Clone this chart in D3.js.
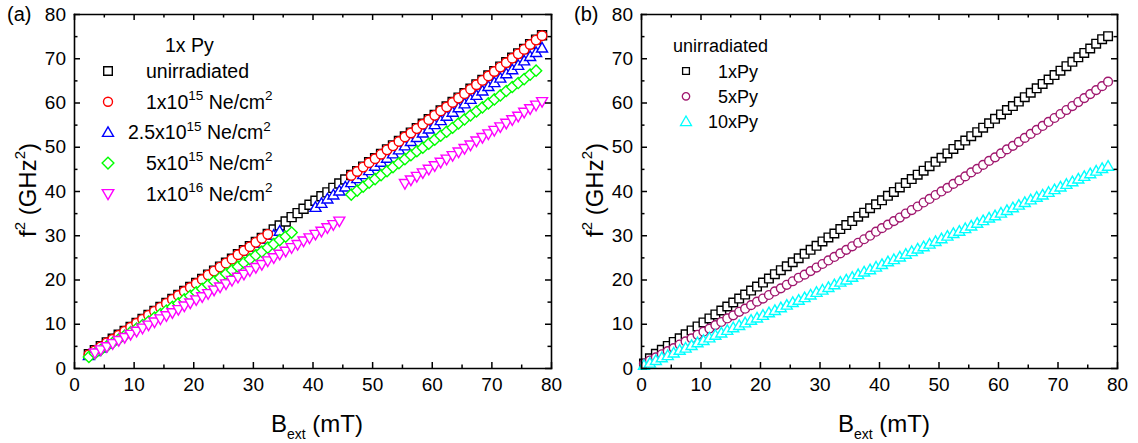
<!DOCTYPE html>
<html>
<head>
<meta charset="utf-8">
<script src="https://cdn.jsdelivr.net/npm/d3@7"></script>
<style>
  body { margin: 0; background: #fff; }
  svg { display: block; }
  text { font-family: "Liberation Sans", Arial, Helvetica, sans-serif; fill: #000; }
</style>
</head>
<body>
<svg id="fig" width="1138" height="443"></svg>
<script>
// ---------- data ----------
// Axis ticks (both panels share the same 0–80 ranges)
const majorTicks = [0, 10, 20, 30, 40, 50, 60, 70, 80];
const minorTicks = [5, 15, 25, 35, 45, 55, 65, 75];

// Panel (a): 1x Py, external field B_ext (mT)
const fieldA = [2.5,3.5,4.5,5.5,6.5,7.5,8.5,9.5,10.5,11.5,12.5,13.5,14.5,15.5,16.5,17.5,18.5,19.5,20.5,21.5,
  22.5,23.5,24.5,25.5,26.5,27.5,28.5,29.5,30.5,31.5,32.5,33.5,34.5,35.5,36.5,37.5,38.5,39.5,40.5,41.5,
  42.5,43.5,44.5,45.5,46.5,47.5,48.5,49.5,50.5,51.5,52.5,53.5,54.5,55.5,56.5,57.5,58.5,59.5,60.5,61.5,
  62.5,63.5,64.5,65.5,66.5,67.5,68.5,69.5,70.5,71.5,72.5,73.5,74.5,75.5,76.5,77.5,78.5];

// f^2 (GHz^2); null where no resonance was recorded
const unirradiatedA = [3.1,4.0,4.9,5.8,6.6,7.5,8.4,9.3,10.2,11.1,
  12.0,12.9,13.8,14.7,15.6,16.5,17.4,18.3,19.2,20.1,
  21.1,22.0,22.9,23.8,24.7,25.7,26.6,27.5,28.5,29.4,
  30.3,31.3,32.2,33.1,34.1,35.0,36.0,36.9,37.8,38.8,
  39.7,40.7,41.7,42.6,43.6,44.5,45.5,46.5,47.4,48.4,
  49.4,50.3,51.3,52.3,53.2,54.2,55.2,56.2,57.2,58.2,
  59.1,60.1,61.1,62.1,63.1,64.1,65.1,66.1,67.1,68.1,
  69.1,70.1,71.1,72.1,73.2,74.2,75.2];
const dose1e15 = [3.0,3.9,4.8,5.7,6.5,7.4,8.3,9.2,10.1,11.0,
  11.9,12.8,13.7,14.6,15.5,16.4,17.3,18.2,19.1,20.0,
  21.0,21.9,22.8,23.7,24.6,25.6,26.5,27.4,28.4,29.3,
  30.2,null,null,null,null,null,null,null,null,null,
  null,null,null,null,43.5,44.4,45.4,46.4,47.3,48.3,
  49.3,50.2,51.2,52.2,53.1,54.1,55.1,56.1,57.1,58.1,
  59.0,60.0,61.0,62.0,63.0,64.0,65.0,66.0,67.0,68.0,
  69.0,70.0,71.0,72.0,73.1,74.1,75.1];
const dose2p5e15 = [2.8,3.7,4.5,5.4,6.2,7.1,7.9,8.8,9.7,10.5,
  11.4,12.3,13.1,14.0,14.9,15.7,16.6,17.5,18.4,19.3,
  20.1,21.0,21.9,22.8,23.7,24.6,25.5,26.4,27.3,28.2,
  29.1,30.0,30.9,null,null,null,null,null,36.3,37.2,
  38.2,39.1,40.0,40.9,41.9,42.8,43.7,44.6,45.6,46.5,
  47.4,48.4,49.3,50.2,51.2,52.1,53.1,54.0,55.0,55.9,
  56.9,57.8,58.8,59.7,60.7,61.6,62.6,63.6,64.5,65.5,
  66.5,67.4,68.4,69.4,70.4,71.3,72.3];
const dose5e15 = [2.5,3.3,4.1,4.9,5.7,6.5,7.3,8.1,8.9,9.7,
  10.5,11.4,12.2,13.0,13.8,14.6,15.5,16.3,17.1,17.9,
  18.8,19.6,20.4,21.3,22.1,22.9,23.8,24.6,25.5,26.3,
  27.2,28.0,28.9,29.7,30.6,null,null,null,null,null,
  null,null,null,null,39.2,40.1,41.0,41.9,42.7,43.6,
  44.5,45.4,46.3,47.2,48.1,49.0,49.8,50.7,51.6,52.5,
  53.4,54.3,55.3,56.2,57.1,58.0,58.9,59.8,60.7,61.6,
  62.6,63.5,64.4,65.3,66.3,67.2,null];
const dose1e16 = [null,3.4,4.1,4.8,5.5,6.2,6.9,7.6,8.3,9.0,
  9.7,10.4,11.1,11.8,12.5,13.2,14.0,14.7,15.4,16.1,
  16.8,17.6,18.3,19.0,19.8,20.5,21.2,22.0,22.7,23.4,
  24.2,24.9,25.7,26.4,27.2,27.9,28.7,29.4,30.2,30.9,
  31.7,32.4,33.2,null,null,null,null,null,null,null,
  null,null,null,41.7,42.5,43.3,44.1,44.9,45.7,46.5,
  47.2,48.0,48.8,49.6,50.4,51.3,52.1,52.9,53.7,54.5,
  55.3,56.1,56.9,57.8,58.6,59.4,60.2];

const legendTitleA = "1x Py";
const legendLabelsA = ["unirradiated", "1x10^15 Ne/cm^2", "2.5x10^15 Ne/cm^2", "5x10^15 Ne/cm^2", "1x10^16 Ne/cm^2"];

// Panel (b): unirradiated films of different thickness
const fieldB = [0.5,1.5,2.5,3.5,4.5,5.5,6.5,7.5,8.5,9.5,10.5,11.5,12.5,13.5,14.5,15.5,16.5,17.5,18.5,19.5,
  20.5,21.5,22.5,23.5,24.5,25.5,26.5,27.5,28.5,29.5,30.5,31.5,32.5,33.5,34.5,35.5,36.5,37.5,38.5,39.5,
  40.5,41.5,42.5,43.5,44.5,45.5,46.5,47.5,48.5,49.5,50.5,51.5,52.5,53.5,54.5,55.5,56.5,57.5,58.5,59.5,
  60.5,61.5,62.5,63.5,64.5,65.5,66.5,67.5,68.5,69.5,70.5,71.5,72.5,73.5,74.5,75.5,76.5,77.5,78.5];
const py1x = [1.0,2.2,3.2,4.1,5.0,5.9,6.7,7.6,8.5,9.4,
  10.3,11.2,12.1,13.0,13.9,14.8,15.7,16.6,17.5,18.4,
  19.3,20.2,21.2,22.1,23.0,23.9,24.8,25.8,26.7,27.6,
  28.6,29.5,30.4,31.4,32.3,33.2,34.2,35.1,36.1,37.0,
  37.9,38.9,39.8,40.8,41.8,42.7,43.7,44.6,45.6,46.6,
  47.5,48.5,49.5,50.4,51.4,52.4,53.3,54.3,55.3,56.3,
  57.3,58.3,59.2,60.2,61.2,62.2,63.2,64.2,65.2,66.2,
  67.2,68.2,69.2,70.2,71.2,72.2,73.3,74.3,75.0];
const py5x = [1.0,1.7,2.4,3.1,3.8,4.5,5.3,6.0,6.7,7.5,
  8.2,8.9,9.7,10.4,11.2,11.9,12.7,13.4,14.2,15.0,
  15.7,16.5,17.3,18.0,18.8,19.6,20.4,21.1,21.9,22.7,
  23.5,24.3,25.1,25.9,26.7,27.5,28.3,29.1,29.9,30.8,
  31.6,32.4,33.2,34.0,34.9,35.7,36.5,37.4,38.2,39.1,
  39.9,40.7,41.6,42.4,43.3,44.2,45.0,45.9,46.8,47.6,
  48.5,49.4,50.2,51.1,52.0,52.9,53.8,54.7,55.6,56.5,
  57.4,58.3,59.2,60.1,61.0,61.9,62.8,63.7,64.7];
const py10x = [0.6,1.1,1.7,2.3,2.8,3.4,4.0,4.5,5.1,5.7,
  6.2,6.8,7.4,7.9,8.5,9.1,9.6,10.2,10.8,11.3,
  11.9,12.5,13.0,13.6,14.2,14.8,15.3,15.9,16.5,17.1,
  17.6,18.2,18.8,19.4,19.9,20.5,21.1,21.7,22.2,22.8,
  23.4,24.0,24.5,25.1,25.7,26.3,26.9,27.4,28.0,28.6,
  29.2,29.8,30.4,30.9,31.5,32.1,32.7,33.3,33.9,34.4,
  35.0,35.6,36.2,36.8,37.4,38.0,38.6,39.1,39.7,40.3,
  40.9,41.5,42.1,42.7,43.3,43.9,44.5,45.1,45.6];

const legendTitleB = "unirradiated";
const legendLabelsB = ["1xPy", "5xPy", "10xPy"];

// ---------- drawing ----------
const svg = d3.select("#fig");
svg.append("rect").attr("width", 1138).attr("height", 443).attr("fill", "#fff");

const boxA = { l: 74, r: 551, t: 14, b: 368 };
const boxB = { l: 641, r: 1117, t: 14, b: 368 };

function scalesFor(box) {
  return {
    x: d3.scaleLinear().domain([0, 80]).range([box.l, box.r]),
    y: d3.scaleLinear().domain([0, 80]).range([box.b, box.t])
  };
}

// Hollow marker outlines, centred on (0,0)
function shapePath(kind, s) {
  const h = s / 2;
  switch (kind) {
    case "square": return `M${-h},${-h}H${h}V${h}H${-h}Z`;
    case "circle": return `M${h},0A${h},${h} 0 1,1 ${-h},0A${h},${h} 0 1,1 ${h},0Z`;
    case "up": return `M0,${-0.56 * s}L${0.55 * s},${0.4 * s}L${-0.55 * s},${0.4 * s}Z`;
    case "down": return `M0,${0.56 * s}L${0.55 * s},${-0.4 * s}L${-0.55 * s},${-0.4 * s}Z`;
    case "diamond": { const d = s * 0.56; return `M0,${-d}L${d},0L0,${d}L${-d},0Z`; }
  }
}

function drawSeries(sc, field, values, kind, size, color) {
  const pts = field.map((b, i) => ({ b, f: values[i] })).filter(p => p.f != null);
  svg.append("g").selectAll("path").data(pts).join("path")
    .attr("d", shapePath(kind, size))
    .attr("transform", p => `translate(${sc.x(p.b)},${sc.y(p.f)})`)
    .attr("fill", "#fff")
    .attr("stroke", color)
    .attr("stroke-width", 1.4);
}

function drawAxes(box, sc) {
  const g = svg.append("g");
  const fmt = d3.format("d");
  const style = sel => {
    sel.attr("font-size", 19).attr("font-family", '"Liberation Sans", Arial, sans-serif');
    sel.selectAll("path.domain").attr("stroke", "#000").attr("stroke-width", 1.6).attr("stroke-linecap", "square");
    sel.selectAll("line").attr("stroke", "#000").attr("stroke-width", 1.5);
    sel.selectAll("text").attr("fill", "#000");
  };
  const noDomain = sel => sel.select(".domain").remove();

  // bottom
  g.append("g").attr("transform", `translate(0,${box.b})`)
    .call(d3.axisBottom(sc.x).tickValues(majorTicks).tickSizeInner(-6).tickSizeOuter(0).tickPadding(10).tickFormat(fmt)).call(style);
  g.append("g").attr("transform", `translate(0,${box.b})`)
    .call(d3.axisBottom(sc.x).tickValues(minorTicks).tickSize(-3.5).tickFormat("")).call(noDomain).call(style);
  // top
  g.append("g").attr("transform", `translate(0,${box.t})`)
    .call(d3.axisTop(sc.x).tickValues(majorTicks).tickSizeInner(-6).tickSizeOuter(0).tickFormat("")).call(style);
  g.append("g").attr("transform", `translate(0,${box.t})`)
    .call(d3.axisTop(sc.x).tickValues(minorTicks).tickSize(-3.5).tickFormat("")).call(noDomain).call(style);
  // left
  g.append("g").attr("transform", `translate(${box.l},0)`)
    .call(d3.axisLeft(sc.y).tickValues(majorTicks).tickSizeInner(-6).tickSizeOuter(0).tickPadding(8).tickFormat(fmt)).call(style);
  g.append("g").attr("transform", `translate(${box.l},0)`)
    .call(d3.axisLeft(sc.y).tickValues(minorTicks).tickSize(-3.5).tickFormat("")).call(noDomain).call(style);
  // right
  g.append("g").attr("transform", `translate(${box.r},0)`)
    .call(d3.axisRight(sc.y).tickValues(majorTicks).tickSizeInner(-6).tickSizeOuter(0).tickFormat("")).call(style);
  g.append("g").attr("transform", `translate(${box.r},0)`)
    .call(d3.axisRight(sc.y).tickValues(minorTicks).tickSize(-3.5).tickFormat("")).call(noDomain).call(style);
}

// Text with ^digits rendered as superscripts (relative shifts keep one text chunk)
function rich(parent, x, y, str, size, supSize, anchor) {
  const t = parent.append("text").attr("x", x).attr("y", y)
    .attr("font-size", size).attr("text-anchor", anchor || "start");
  const rise = size * 0.45;
  let raised = false;
  str.split(/\^(\d+)/).forEach((part, k) => {
    if (part === "") return;
    const sp = t.append("tspan").text(part);
    if (k % 2) {
      sp.attr("font-size", supSize).attr("dy", raised ? 0 : -rise);
      raised = true;
    } else {
      if (raised) sp.attr("dy", rise);
      raised = false;
    }
  });
  return t;
}

function axisTitles(box, yTitleX, panelLabel) {
  const g = svg.append("g");
  // x title: B_ext (mT)
  const xt = g.append("text").attr("x", box.l + 197).attr("y", 432).attr("font-size", 24);
  xt.append("tspan").text("B");
  xt.append("tspan").attr("dy", 7).attr("font-size", 14).text("ext");
  xt.append("tspan").attr("dy", -7).text(" (mT)");
  // y title: f^2 (GHz^2), rotated
  const cy = (box.t + box.b) / 2 - 1;
  rich(g, yTitleX, cy, "f^2 (GHz^2)", 24, 15, "middle")
    .attr("transform", `rotate(-90,${yTitleX},${cy})`);
  // panel letter
  g.append("text").attr("x", box.l - 67).attr("y", 21).attr("font-size", 20).text(panelLabel);
}

// ----- panel (a)
const scA = scalesFor(boxA);
const seriesA = [
  { v: unirradiatedA, kind: "square", size: 9, color: "#000000" },
  { v: dose2p5e15, kind: "up", size: 10, color: "#0000ff" },
  { v: dose1e15, kind: "circle", size: 9.5, color: "#ff0000" },
  { v: dose5e15, kind: "diamond", size: 10, color: "#00ff00" },
  { v: dose1e16, kind: "down", size: 10, color: "#ff00ff" }
];
seriesA.forEach(s => drawSeries(scA, fieldA, s.v, s.kind, s.size, s.color));
drawAxes(boxA, scA);
axisTitles(boxA, 36, "(a)");

// legend (a)
{
  const g = svg.append("g");
  g.append("text").attr("x", 165).attr("y", 52).attr("font-size", 19.5).text(legendTitleA);
  const order = [
    { kind: "square", size: 8.6, color: "#000000" },
    { kind: "circle", size: 9, color: "#ff0000" },
    { kind: "up", size: 10, color: "#0000ff" },
    { kind: "diamond", size: 10.5, color: "#00ff00" },
    { kind: "down", size: 10.5, color: "#ff00ff" }
  ];
  const textX = [146, 146, 128, 146, 146];
  legendLabelsA.forEach((lab, i) => {
    const yc = 71 + i * 30.7;
    g.append("path").attr("d", shapePath(order[i].kind, order[i].size))
      .attr("transform", `translate(108,${yc})`)
      .attr("fill", "#fff").attr("stroke", order[i].color).attr("stroke-width", 1.4);
    rich(g, textX[i], yc + 7, lab, 19.5, 13.5, "start");
  });
}

// ----- panel (b)
const scB = scalesFor(boxB);
drawSeries(scB, fieldB, py1x, "square", 8.6, "#000000");
drawSeries(scB, fieldB, py5x, "circle", 8.8, "#a0176e");
drawSeries(scB, fieldB, py10x, "up", 10, "#00ffff");
drawAxes(boxB, scB);
axisTitles(boxB, 603, "(b)");

// legend (b)
{
  const g = svg.append("g");
  g.append("text").attr("x", 673).attr("y", 52).attr("font-size", 18).text(legendTitleB);
  const order = [
    { kind: "square", size: 6.8, color: "#000000" },
    { kind: "circle", size: 7.4, color: "#a0176e" },
    { kind: "up", size: 10, color: "#00ffff" }
  ];
  legendLabelsB.forEach((lab, i) => {
    const yc = 71 + i * 25.3;
    g.append("path").attr("d", shapePath(order[i].kind, order[i].size))
      .attr("transform", `translate(686,${yc})`)
      .attr("fill", "#fff").attr("stroke", order[i].color).attr("stroke-width", 1.3);
    g.append("text").attr("x", 758).attr("y", yc + 6.5).attr("font-size", 18)
      .attr("text-anchor", "end").text(lab);
  });
}
</script>
</body>
</html>
